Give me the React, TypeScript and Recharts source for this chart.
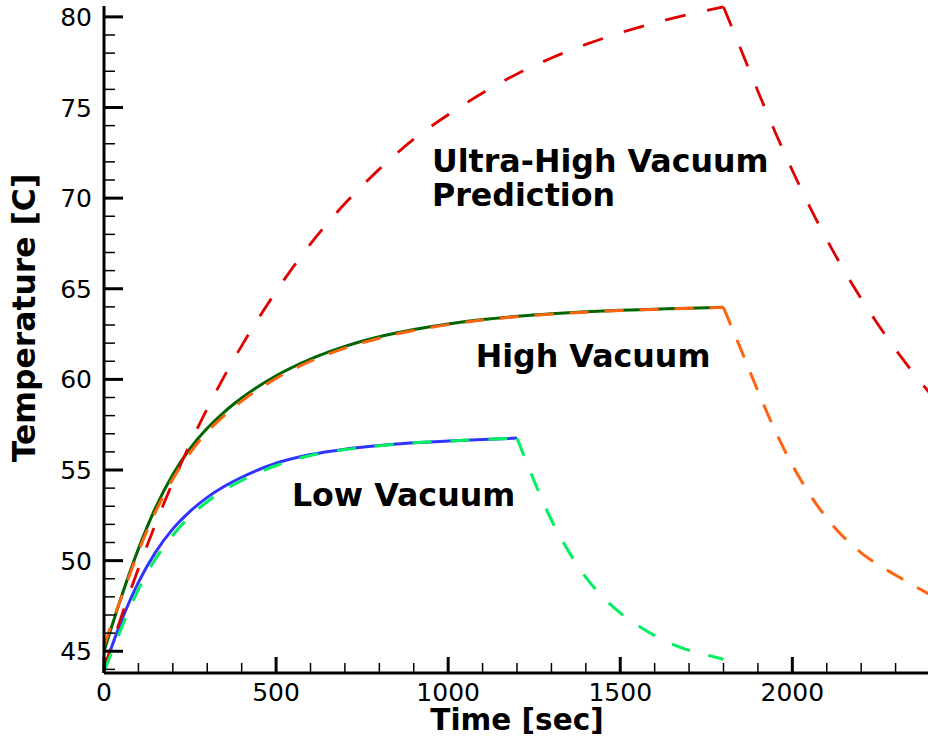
import React from 'react';
import { LineChart, Line, XAxis, YAxis, ReferenceDot } from 'recharts';

// ---- time axes (sec) ----
const riseTimes = [0, 25, 50, 100, 150, 200, 250, 300, 350, 400, 500, 600, 700, 800, 900, 1000, 1100, 1200, 1300, 1400, 1500, 1600, 1700, 1800];
const lowRiseTimes = [0, 25, 50, 100, 150, 200, 250, 300, 350, 400, 500, 600, 700, 800, 900, 1000, 1100, 1200];
const highDecayTimes = [1800, 1850, 1900, 1950, 2000, 2050, 2100, 2150, 2200, 2250, 2300, 2350, 2400];
const lowDecayTimes = [1200, 1250, 1300, 1350, 1400, 1450, 1500, 1550, 1600, 1650, 1700, 1750, 1800];

// ---- temperatures [C] ----
const ultraRise = [44.0, 45.48, 46.89, 49.57, 52.04, 54.33, 56.44, 58.39, 60.19, 61.85, 64.85, 67.48, 69.7, 71.6, 73.25, 74.6, 75.8, 76.85, 77.73, 78.48, 79.12, 79.67, 80.14, 80.55];
const ultraDecay = [80.55, 78.23, 75.9, 73.65, 71.53, 69.55, 67.72, 66.02, 64.45, 63.0, 61.65, 60.4, 59.22];
const highSolid = [45.0, 46.52, 47.98, 50.65, 52.93, 54.75, 56.18, 57.3, 58.21, 58.97, 60.2, 61.12, 61.82, 62.35, 62.75, 63.06, 63.3, 63.48, 63.62, 63.73, 63.81, 63.87, 63.93, 63.98];
const highDashRise = [45.3, 46.65, 47.95, 50.5, 52.7, 54.5, 55.95, 57.1, 58.02, 58.8, 60.05, 61.0, 61.72, 62.27, 62.7, 63.02, 63.27, 63.46, 63.6, 63.71, 63.8, 63.86, 63.92, 63.96];
const highDashDecay = [63.96, 61.68, 59.35, 57.17, 55.27, 53.67, 52.35, 51.28, 50.43, 49.76, 49.2, 48.65, 48.12];
const lowSolid = [44.0, 45.39, 46.65, 48.8, 50.47, 51.75, 52.72, 53.49, 54.1, 54.6, 55.37, 55.85, 56.15, 56.35, 56.5, 56.6, 56.68, 56.76];
const lowDashRise = [43.9, 45.05, 46.25, 48.4, 50.1, 51.4, 52.45, 53.25, 53.9, 54.42, 55.25, 55.8, 56.13, 56.34, 56.5, 56.6, 56.68, 56.76];
const lowDashDecay = [56.76, 54.39, 52.24, 50.51, 49.08, 47.98, 47.12, 46.43, 45.86, 45.4, 45.05, 44.8, 44.56];

// ---- ticks ----
const xTicks = [0, 100, 200, 300, 400, 500, 600, 700, 800, 900, 1000, 1100, 1200, 1300, 1400, 1500, 1600, 1700, 1800, 1900, 2000, 2100, 2200, 2300, 2400];
const xMajor = [0, 500, 1000, 1500, 2000];
const yTicks = [44, 45, 46, 47, 48, 49, 50, 51, 52, 53, 54, 55, 56, 57, 58, 59, 60, 61, 62, 63, 64, 65, 66, 67, 68, 69, 70, 71, 72, 73, 74, 75, 76, 77, 78, 79, 80];
const yMajor = [45, 50, 55, 60, 65, 70, 75, 80];

// ---- annotations ----
const notes = [
  { t: 953, v: 71.45, text: 'Ultra-High Vacuum' },
  { t: 953, v: 69.55, text: 'Prediction' },
  { t: 1080, v: 60.7, text: 'High Vacuum' },
  { t: 546, v: 53.0, text: 'Low Vacuum' },
];

const toData = (ts: number[], vs: number[]) => ts.map((t, i) => ({ t, v: vs[i] }));

const FONT = '"DejaVu Sans", "Liberation Sans", sans-serif';

const XTick = (props: any) => {
  const { x, y, payload } = props;
  const major = xMajor.includes(payload.value);
  return (
    <g>
      <line x1={x} x2={x} y1={y} y2={y - (major ? 16 : 10)} stroke="#000" strokeWidth={major ? 3 : 1.5} />
      {major && (
        <text x={x} y={y + 27.5} textAnchor="middle" fontFamily={FONT} fontSize={25} fill="#000">
          {payload.value}
        </text>
      )}
    </g>
  );
};

const YTick = (props: any) => {
  const { x, y, payload } = props;
  const major = yMajor.includes(payload.value);
  return (
    <g>
      <line x1={x} x2={x + (major ? 19 : 11)} y1={y} y2={y} stroke="#000" strokeWidth={major ? 3 : 1.5} />
      {major && (
        <text x={x - 12} y={y + 9} textAnchor="end" fontFamily={FONT} fontSize={25} fill="#000">
          {payload.value}
        </text>
      )}
    </g>
  );
};

const XTitle = (props: any) => {
  const vb = props.viewBox || { x: 104, y: 673, width: 826, height: 60 };
  return (
    <text x={vb.x + vb.width / 2} y={vb.y + 57} textAnchor="middle" fontFamily={FONT} fontWeight="bold" fontSize={29.5} fill="#000">
      Time [sec]
    </text>
  );
};

const YTitle = (props: any) => {
  const vb = props.viewBox || { x: 0, y: 6, width: 104, height: 667 };
  const cx = vb.x + 35;
  const cy = vb.y + 312;
  return (
    <text x={cx} y={cy} transform={`rotate(-90, ${cx}, ${cy})`} textAnchor="middle" fontFamily={FONT} fontWeight="bold" fontSize={31.4} fill="#000">
      Temperature [C]
    </text>
  );
};

const noteShape = (text: string) => (p: any) => (
  <text x={p.cx} y={p.cy} textAnchor="start" fontFamily={FONT} fontWeight="bold" fontSize={31.7} fill="#000">
    {text}
  </text>
);

export default function App() {
  const common = { dot: false, activeDot: false, isAnimationActive: false, type: 'monotone' as const, dataKey: 'v' };
  return (
    <div style={{ position: 'absolute', left: 0, top: 0, width: 928, height: 738, overflow: 'hidden', background: '#fff' }}>
      <LineChart width={932} height={738} margin={{ top: 6, right: 2, bottom: 5, left: 0 }}>
        <XAxis
          type="number"
          dataKey="t"
          domain={[0, 2400]}
          ticks={xTicks}
          interval={0}
          tickSize={0}
          tickMargin={0}
          height={60}
          axisLine={{ stroke: '#000', strokeWidth: 3 }}
          tickLine={false}
          tick={XTick}
          label={XTitle}
        />
        <YAxis
          type="number"
          domain={[43.8, 80.6]}
          ticks={yTicks}
          interval={0}
          tickSize={0}
          tickMargin={0}
          width={104}
          axisLine={{ stroke: '#000', strokeWidth: 3 }}
          tickLine={false}
          tick={YTick}
          label={YTitle}
        />
        <Line {...common} data={toData(riseTimes, highSolid)} stroke="#006400" strokeWidth={3} />
        <Line {...common} data={toData(lowRiseTimes, lowSolid)} stroke="#3333ff" strokeWidth={3} />
        <Line {...common} data={toData(riseTimes, ultraRise)} stroke="#e00000" strokeWidth={2.8} strokeDasharray="21 22" />
        <Line {...common} data={toData(highDecayTimes, ultraDecay)} stroke="#e00000" strokeWidth={2.8} strokeDasharray="21 22" />
        <Line {...common} data={toData(riseTimes, highDashRise)} stroke="#ff6410" strokeWidth={3} strokeDasharray="19 16" />
        <Line {...common} data={toData(highDecayTimes, highDashDecay)} stroke="#ff6410" strokeWidth={3} strokeDasharray="19 16" />
        <Line {...common} data={toData(lowRiseTimes, lowDashRise)} stroke="#00f060" strokeWidth={3} strokeDasharray="19 19" />
        <Line {...common} data={toData(lowDecayTimes, lowDashDecay)} stroke="#00f060" strokeWidth={3} strokeDasharray="19 19" />
        {notes.map((n) => (
          <ReferenceDot key={n.text} x={n.t} y={n.v} r={0} shape={noteShape(n.text)} />
        ))}
      </LineChart>
    </div>
  );
}
